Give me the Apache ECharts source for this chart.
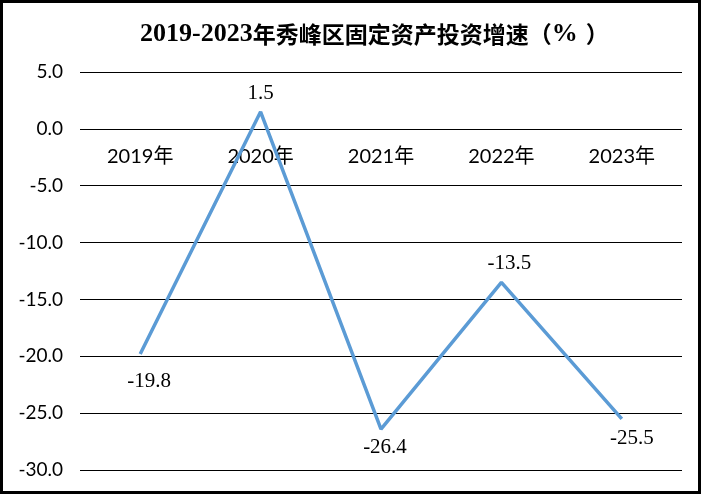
<!DOCTYPE html>
<html>
<head>
<meta charset="utf-8">
<script src="https://cdn.jsdelivr.net/npm/echarts@6/dist/echarts.min.js"></script>
<style>
html,body{margin:0;padding:0;background:#fff;overflow:hidden;}
#wrap{position:relative;width:701px;height:494px;}
#chart{position:absolute;left:0;top:0;width:701px;height:494px;}
#frame{position:absolute;left:0;top:0;width:701px;height:494px;box-sizing:border-box;border:3px solid #000;pointer-events:none;}
</style>
</head>
<body>
<div id="wrap"><div id="chart"></div><div id="frame"></div></div>
<script>
var titleYears = '2019-2023';
var titleMain = '年秀峰区固定资产投资增速（';
var titleUnit = '%';
var titleClose = '）';
var categories = ['2019年', '2020年', '2021年', '2022年', '2023年'];
var growth = [-19.8, 1.5, -26.4, -13.5, -25.5];
var yMin = -30, yMax = 5, yStep = 5;

// label placement per point (style only)
var labelPlace = [
  {position: 'bottom', distance: 17, offset: [9, 0]},
  {position: 'top', distance: 8, offset: [0, 0]},
  {position: 'bottom', distance: 8, offset: [4, 0]},
  {position: 'top', distance: 8, offset: [8, 0]},
  {position: 'bottom', distance: 9, offset: [10, 0]}
];

var gridBottom = 24;
var chart = echarts.init(document.getElementById('chart'), null, {renderer: 'canvas'});
var serifBold = {fontFamily: '"Liberation Serif", serif', fontWeight: 'bold', fontSize: 26, color: '#000'};
var cjkBold = {fontFamily: '"Noto Sans CJK SC", sans-serif', fontWeight: 'bold', fontSize: 23, color: '#000'};
chart.setOption({
  backgroundColor: '#fff',
  animation: false,
  title: {
    text: '{a|' + titleYears + '}{b|' + titleMain + '}{a|' + titleUnit + '}{q|' + titleClose + '}',
    left: 140,
    top: 21,
    padding: 0,
    textStyle: {
      rich: {
        a: serifBold,
        b: cjkBold,
        q: echarts.util.extend({padding: [0, 0, 0, 8]}, cjkBold)
      }
    }
  },
  grid: {left: 80, right: 19, top: 72, bottom: gridBottom, containLabel: false, outerBoundsMode: 'none'},
  xAxis: {
    type: 'category',
    data: categories,
    boundaryGap: true,
    axisTick: {show: false},
    axisLine: {show: false, onZero: false},
    axisLabel: {margin: 18, fontSize: 20, color: '#000', fontFamily: 'Lato, "Noto Sans CJK SC", sans-serif'}
  },
  yAxis: {
    type: 'value',
    min: yMin, max: yMax, interval: yStep,
    axisLine: {show: false},
    axisTick: {show: false},
    splitLine: {lineStyle: {color: '#000', width: 1}},
    axisLabel: {
      margin: 17, fontSize: 19, color: '#000',
      fontFamily: 'Lato, sans-serif',
      formatter: function (v) { return v.toFixed(1); }
    }
  },
  series: [{
    type: 'line',
    data: growth.map(function (v, i) {
      return {value: v, label: labelPlace[i]};
    }),
    showSymbol: true,
    symbol: 'circle',
    symbolSize: 0.1,
    lineStyle: {color: '#5B9BD5', width: 3.5},
    itemStyle: {color: 'rgba(0,0,0,0)'},
    label: {
      show: true,
      fontSize: 21,
      color: '#000',
      fontFamily: '"Liberation Serif", serif',
      formatter: function (p) { return p.value.toFixed(1); }
    }
  }]
});
// move the category axis onto the zero line using the library's own scale
var zeroY = chart.convertToPixel({yAxisIndex: 0}, 0);
var bottomY = 494 - gridBottom;
chart.setOption({xAxis: {offset: zeroY - bottomY}});
</script>
</body>
</html>
